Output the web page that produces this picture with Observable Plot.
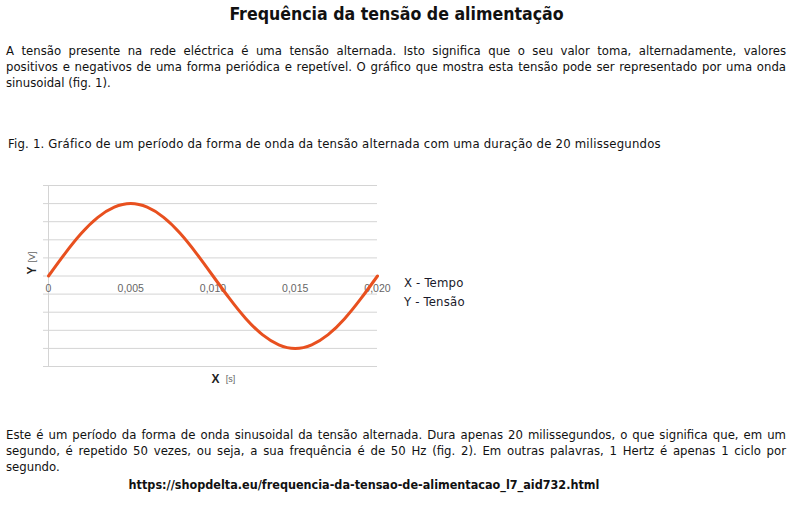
<!DOCTYPE html>
<html>
<head>
<meta charset="utf-8">
<script src="https://cdn.jsdelivr.net/npm/d3@7"></script>
<script src="https://cdn.jsdelivr.net/npm/@observablehq/plot@0.6"></script>
<style>
  html, body { margin: 0; padding: 0; background: #fff; }
  body { width: 793px; height: 506px; position: relative; overflow: hidden;
         font-family: "DejaVu Sans Condensed", "DejaVu Sans", sans-serif; color: #111; }
  .abs { position: absolute; }
  .title { left: 0; width: 793px; top: 3px; text-align: center; font-weight: bold; font-size: 17.6px; line-height: 22px; }
  .para { left: 6px; width: 780px; font-size: 13px; line-height: 16px; }
  .para div { text-align: justify; text-align-last: justify; white-space: nowrap; }
  .para div.last { text-align-last: left; }
  .cap { left: 8px; top: 136px; font-size: 13px; letter-spacing: 0.2px; line-height: 16px; white-space: nowrap; }
  .legend { left: 404px; top: 273px; font-size: 13px; letter-spacing: 0.2px; line-height: 19px; color: #1a1a2a; }
  .url { left: 0; width: 728px; top: 477px; text-align: center; font-weight: bold; font-size: 12.5px; line-height: 16px; }
  #chart { left: 0; top: 175px; }
</style>
</head>
<body>
<script>
// ---- data ----
const timeS = [0, 0.001, 0.002, 0.003, 0.004, 0.005, 0.006, 0.007, 0.008, 0.009, 0.010,
               0.011, 0.012, 0.013, 0.014, 0.015, 0.016, 0.017, 0.018, 0.019, 0.020];
const voltage = [0, 0.31, 0.59, 0.81, 0.95, 1, 0.95, 0.81, 0.59, 0.31, 0,
                 -0.31, -0.59, -0.81, -0.95, -1, -0.95, -0.81, -0.59, -0.31, 0];
const xTicks = [0, 0.005, 0.010, 0.015, 0.020];
const xTickLabels = ["0", "0,005", "0,010", "0,015", "0,020"];
const yGrid = [-1.25, -1, -0.75, -0.5, -0.25, 0, 0.25, 0.5, 0.75, 1, 1.25];
const titleText = "Frequência da tensão de alimentação";
const para1 = [
  "A tensão presente na rede eléctrica é uma tensão alternada. Isto significa que o seu valor toma, alternadamente, valores",
  "positivos e negativos de uma forma periódica e repetível. O gráfico que mostra esta tensão pode ser representado por uma onda",
  "sinusoidal (fig. 1)."
];
const captionText = "Fig. 1. Gráfico de um período da forma de onda da tensão alternada com uma duração de 20 milissegundos";
const legendLines = ["X - Tempo", "Y - Tensão"];
const para2 = [
  "Este é um período da forma de onda sinusoidal da tensão alternada. Dura apenas 20 milissegundos, o que significa que, em um",
  "segundo, é repetido 50 vezes, ou seja, a sua frequência é de 50 Hz (fig. 2). Em outras palavras, 1 Hertz é apenas 1 ciclo por",
  "segundo."
];
const urlText = "https://shopdelta.eu/frequencia-da-tensao-de-alimentacao_l7_aid732.html";

const data = timeS.map((t, i) => ({t, v: voltage[i]}));

function addDiv(cls, style, html) {
  const d = document.createElement("div");
  d.className = "abs " + cls;
  Object.assign(d.style, style || {});
  if (html !== undefined) d.textContent = html;
  document.body.appendChild(d);
  return d;
}
function addPara(lines, top) {
  const p = addDiv("para", {top: top + "px"});
  lines.forEach((l, i) => {
    const d = document.createElement("div");
    d.textContent = l;
    if (i === lines.length - 1) d.className = "last";
    p.appendChild(d);
  });
}

addDiv("title", {}, titleText);
addPara(para1, 43);
addDiv("cap", {}, captionText);
const lg = addDiv("legend", {});
legendLines.forEach(l => { const d = document.createElement("div"); d.textContent = l; lg.appendChild(d); });
addPara(para2, 427);
addDiv("url", {}, urlText);

const chart = Plot.plot({
  width: 400,
  height: 225,
  marginTop: 10,
  marginBottom: 34,
  marginLeft: 48,
  marginRight: 23,
  style: {fontFamily: "Liberation Sans, Arial, sans-serif", background: "transparent"},
  x: {domain: [0, 0.02], axis: null},
  y: {domain: [-1.25, 1.25], axis: null},
  marks: [
    Plot.ruleY(yGrid, {stroke: "#d4d4d4", strokeWidth: 1, insetLeft: -5}),
    Plot.ruleX([0], {stroke: "#d4d4d4", strokeWidth: 1}),
    Plot.text(xTicks, {x: d => d, y: 0, text: (d, i) => xTickLabels[i], dy: 13, fill: "#666", fontSize: 10.5, textAnchor: "middle", lineAnchor: "middle"}),
    Plot.line(data, {x: "t", y: "v", stroke: "#e8501f", strokeWidth: 3, curve: "natural"}),
    Plot.text(["X"], {frameAnchor: "bottom", lineAnchor: "middle", textAnchor: "middle", dy: 13, dx: 2.5, fontWeight: "bold", fontSize: 12, fill: "#222"}),
    Plot.text(["[s]"], {frameAnchor: "bottom", lineAnchor: "middle", textAnchor: "middle", dy: 13, dx: 17.5, fontSize: 9, fill: "#666"}),
    Plot.text(["Y"], {frameAnchor: "left", lineAnchor: "middle", textAnchor: "middle", rotate: -90, dx: -16.5, dy: -5.5, fontWeight: "bold", fontSize: 12, fill: "#222"}),
    Plot.text(["[V]"], {frameAnchor: "left", lineAnchor: "middle", textAnchor: "middle", rotate: -90, dx: -16.5, dy: -19, fontSize: 9, fill: "#666"})
  ]
});
chart.id = "chart";
chart.classList.add("abs");
document.body.appendChild(chart);
</script>
</body>
</html>
